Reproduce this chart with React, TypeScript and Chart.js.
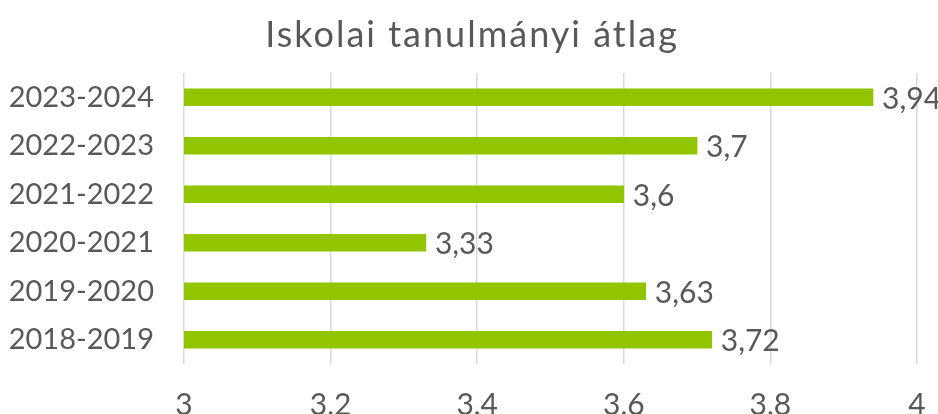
import React, { useEffect, useRef } from "react";
import { Chart, registerables } from "chart.js";

Chart.register(...registerables);

const categories = ["2023-2024", "2022-2023", "2021-2022", "2020-2021", "2019-2020", "2018-2019"];
const values = [3.94, 3.7, 3.6, 3.33, 3.63, 3.72];
const titleText = "Iskolai tanulmányi átlag";
const xMin = 3;
const xMax = 4;
const xStep = 0.2;

const FONT = "Lato";
const TEXT = "#595959";

const fmt = (v: number) => String(Math.round(v * 100) / 100).replace(".", ",");

const valueLabels = {
  id: "valueLabels",
  afterDatasetsDraw(chart: any) {
    const ctx = chart.ctx;
    const meta = chart.getDatasetMeta(0);
    ctx.save();
    ctx.font = `30px ${FONT}`;
    ctx.fillStyle = TEXT;
    ctx.textAlign = "left";
    ctx.textBaseline = "middle";
    meta.data.forEach((el: any, i: number) => {
      ctx.fillText(fmt(values[i]), el.x + 9, el.y + 2);
    });
    ctx.restore();
  },
};

const titleDraw = {
  id: "titleDraw",
  afterDraw(chart: any) {
    const ctx = chart.ctx;
    ctx.save();
    ctx.font = `36px ${FONT}`;
    ctx.fillStyle = TEXT;
    (ctx as any).letterSpacing = "2px";
    ctx.textAlign = "center";
    ctx.textBaseline = "alphabetic";
    ctx.fillText(titleText, 472, 47);
    ctx.restore();
  },
};

export default function App() {
  const ref = useRef<HTMLCanvasElement>(null);
  useEffect(() => {
    document.body.style.margin = "0";
    const chart = new Chart(ref.current!, {
      type: "bar",
      data: {
        labels: categories,
        datasets: [
          {
            data: values,
            backgroundColor: "#92C500",
            barThickness: 17,
          },
        ],
      },
      plugins: [valueLabels, titleDraw],
      options: {
        indexAxis: "y",
        animation: false,
        responsive: false,
        layout: { padding: { left: 0, right: 21, top: 73, bottom: 0 } },
        plugins: {
          legend: { display: false },
          tooltip: { enabled: false },
          title: { display: false },
        },
        scales: {
          x: {
            min: xMin,
            max: xMax,
            afterFit: (s: any) => {
              s.height = 68;
              s.paddingLeft = 0;
              s.paddingRight = 0;
            },
            ticks: {
              stepSize: xStep,
              color: TEXT,
              font: { family: FONT, size: 30 },
              padding: 23,
              maxRotation: 0,
              callback: (v: any) => fmt(Number(v)),
            },
            grid: { color: "#D9D9D9", drawTicks: false, lineWidth: 1.5 },
            border: { display: false },
          },
          y: {
            afterFit: (s: any) => {
              s.width = 184;
            },
            ticks: {
              color: TEXT,
              font: { family: FONT, size: 29 },
              padding: 30,
            },
            grid: { display: false, drawTicks: false },
            border: { display: false },
          },
        },
      },
    });
    return () => chart.destroy();
  }, []);
  return (
    <div style={{ width: 938, height: 414, overflow: "hidden" }}>
      <canvas ref={ref} width={938} height={432} />
    </div>
  );
}
